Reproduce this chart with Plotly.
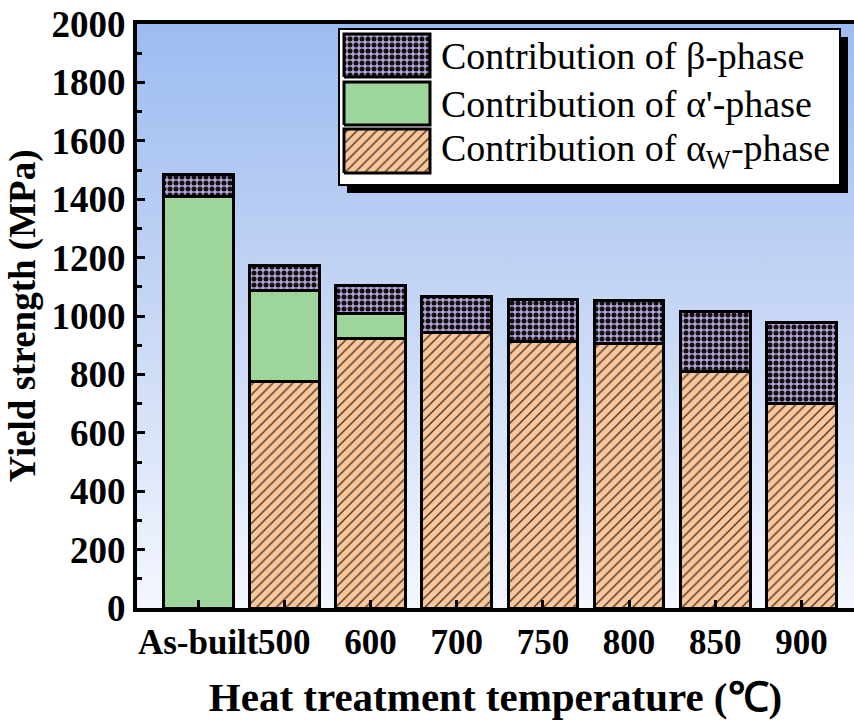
import base64
import plotly.graph_objects as go

# ---- data -------------------------------------------------------------
categories = ["As-built", "500", "600", "700", "750", "800", "850", "900"]
alpha_w = [0, 775, 924, 943, 914, 906, 809, 699]      # α_W-phase contribution (MPa)
alpha_p = [1409, 311, 85, 0, 0, 0, 0, 0]              # α'-phase contribution (MPa)
beta = [77, 88, 96, 124, 141, 146, 208, 279]          # β-phase contribution (MPa)

legend_labels = [
    "Contribution of β-phase",
    "Contribution of α'-phase",
    "Contribution of α<sub>W</sub>-phase",
]

# ---- styles -----------------------------------------------------------
SERIF = "Liberation Serif, Times New Roman, serif"
ORANGE = "#F9C79A"
GREEN = "#9DD59B"
PURPLE = "#B5A4D6"

pat_w = dict(shape="/", bgcolor=ORANGE, fgcolor="#4a3526", size=7, solidity=0.2, fillmode="replace")
pat_b = dict(shape=".", bgcolor=PURPLE, fgcolor="#111111", size=6, solidity=0.55, fillmode="replace")

XR = [-0.71, 7.61]
YR = [0, 2000]

# figure geometry (px)
W, H = 854, 720
ML, MR, MT, MB = 137, 0, 24, 112
PW, PH = W - ML - MR, H - MT - MB


def px_to_data(px, py):
    fx = (px - ML) / PW
    fy = (H - MB - py) / PH
    return XR[0] + fx * (XR[1] - XR[0]), YR[0] + fy * (YR[1] - YR[0])


def px_to_paper(px, py):
    return (px - ML) / PW, (H - MB - py) / PH


xs = list(range(len(categories)))

fig = go.Figure()

fig.add_bar(x=xs, y=alpha_w, width=0.81, marker=dict(color=ORANGE, pattern=pat_w,
            line=dict(color="black", width=3)), showlegend=False)
fig.add_bar(x=xs, y=alpha_p, width=0.81, marker=dict(color=GREEN,
            line=dict(color="black", width=3)), showlegend=False)
fig.add_bar(x=xs, y=beta, width=0.81, marker=dict(color=PURPLE, pattern=pat_b,
            line=dict(color="black", width=3)), showlegend=False)

# ---- custom legend ------------------------------------------------------
bx0, by0 = px_to_paper(339, 29)
bx1, by1 = px_to_paper(840, 185)
sx0, sy0 = px_to_paper(347, 37)
sx1, sy1 = px_to_paper(848, 193)
shapes = [
    dict(type="rect", xref="paper", yref="paper", x0=sx0, x1=sx1, y0=sy1, y1=sy0,
         fillcolor="black", line=dict(width=0), layer="below"),
    dict(type="rect", xref="paper", yref="paper", x0=bx0, x1=bx1, y0=by1, y1=by0,
         fillcolor="white", line=dict(color="black", width=2), layer="below"),
]

swatch_rows = [(34, 77), (82, 125), (129, 173)]
swatch_fill = [
    dict(fillcolor=PURPLE, fillpattern=pat_b),
    dict(fillcolor=GREEN),
    dict(fillcolor=ORANGE, fillpattern=pat_w),
]
annotations = []
for (top, bot), style, label in zip(swatch_rows, swatch_fill, legend_labels):
    x0, y0 = px_to_data(344, bot)
    x1, y1 = px_to_data(430, top)
    fig.add_scatter(x=[x0, x1, x1, x0, x0], y=[y0, y0, y1, y1, y0], mode="lines",
                    fill="toself", line=dict(color="black", width=3),
                    hoverinfo="skip", showlegend=False, **style)
    tx, ty = px_to_paper(439, (top + bot) / 2)
    annotations.append(dict(xref="paper", yref="paper", x=tx, y=ty, text=label,
                            showarrow=False, xanchor="left", yanchor="middle",
                            font=dict(family=SERIF, size=38, color="black")))

# ---- background gradient -----------------------------------------------
svg = (
    '<svg xmlns="http://www.w3.org/2000/svg" width="100" height="100" preserveAspectRatio="none">'
    '<defs><linearGradient id="g" x1="0" y1="0" x2="0" y2="1">'
    '<stop offset="0" stop-color="#9CBCF1"/>'
    '<stop offset="0.45" stop-color="#C3D4F4"/>'
    '<stop offset="1" stop-color="#F4F7FE"/>'
    '</linearGradient></defs>'
    '<rect width="100" height="100" fill="url(#g)"/></svg>'
)
src = "data:image/svg+xml;base64," + base64.b64encode(svg.encode()).decode()

fig.update_layout(
    width=W, height=H,
    margin=dict(l=ML, r=MR, t=MT, b=MB, autoexpand=False),
    barmode="stack",
    paper_bgcolor="white",
    plot_bgcolor="rgba(0,0,0,0)",
    shapes=shapes,
    annotations=annotations,
    images=[dict(source=src, xref="paper", yref="paper", x=0, y=1, sizex=1, sizey=1,
                 sizing="stretch", xanchor="left", yanchor="top", layer="below")],
    showlegend=False,
    font=dict(family=SERIF, color="black"),
)

fig.update_xaxes(
    range=XR, tickmode="array", tickvals=xs, ticktext=categories, tickangle=0,
    showgrid=False, zeroline=False,
    showline=True, linecolor="black", linewidth=4, mirror=True,
    ticks="inside", ticklen=8, tickwidth=3, tickcolor="black",
    tickfont=dict(family=SERIF, size=35, weight=700, color="black"),
    title=dict(text="Heat treatment temperature (℃)", standoff=22,
               font=dict(family=SERIF, size=41, weight=700, color="black")),
)
fig.update_yaxes(
    range=YR, tickmode="linear", tick0=0, dtick=200,
    showgrid=False, zeroline=False,
    showline=True, linecolor="black", linewidth=4, mirror=False,
    ticks="inside", ticklen=8, tickwidth=3, tickcolor="black",
    minor=dict(ticks="inside", dtick=100, ticklen=5, tickwidth=3, tickcolor="black"),
    tickfont=dict(family=SERIF, size=37, weight=700, color="black"),
    title=dict(text="Yield strength (MPa)", standoff=6,
               font=dict(family=SERIF, size=37, weight=700, color="black")),
)

fig.write_html("out.html")
